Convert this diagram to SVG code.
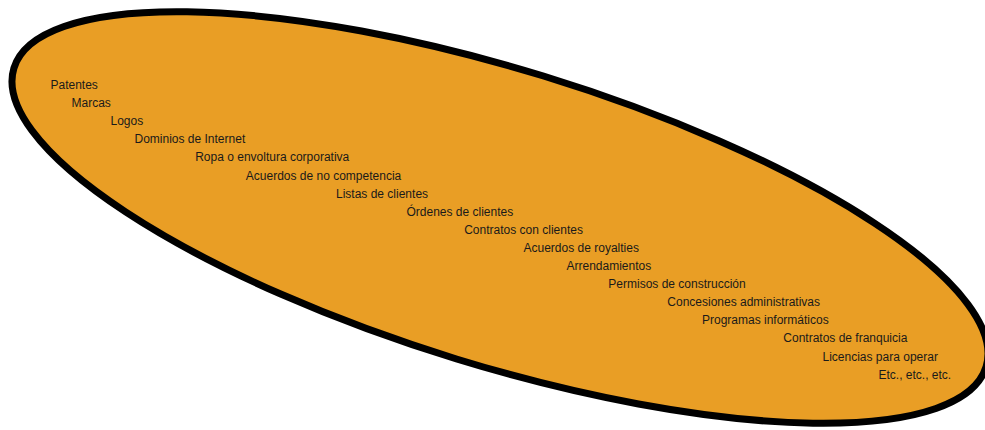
<svg xmlns="http://www.w3.org/2000/svg" width="985" height="430" viewBox="0 0 985 430">
<style>
.shape{fill:#E99E25;stroke:#000;stroke-width:7}
text{font-family:"Liberation Sans",Arial,sans-serif;font-size:12px;fill:#1a1a1a}
</style>
<rect width="985" height="430" fill="#fff"/>
<g id="ellipse">
<ellipse class="shape" cx="500" cy="217.5" rx="508.5" ry="148" transform="rotate(17.08 500 217.5)"/>
</g>
<g id="items">
<text x="50.5" y="89">Patentes</text>
<text x="71.5" y="107.1">Marcas</text>
<text x="110.5" y="125.2">Logos</text>
<text x="134.5" y="143.3">Dominios de Internet</text>
<text x="195.2" y="161.4">Ropa o envoltura corporativa</text>
<text x="245.8" y="179.5">Acuerdos de no competencia</text>
<text x="336" y="197.6">Listas de clientes</text>
<text x="406.5" y="215.7">Órdenes de clientes</text>
<text x="464.2" y="233.8">Contratos con clientes</text>
<text x="523.5" y="251.9">Acuerdos de royalties</text>
<text x="566.5" y="270">Arrendamientos</text>
<text x="608.3" y="288.1">Permisos de construcción</text>
<text x="667.3" y="306.2">Concesiones administrativas</text>
<text x="702" y="324.3">Programas informáticos</text>
<text x="783.3" y="342.4">Contratos de franquicia</text>
<text x="822.5" y="360.5">Licencias para operar</text>
<text x="878.5" y="378.6">Etc., etc., etc.</text>
</g>
</svg>
